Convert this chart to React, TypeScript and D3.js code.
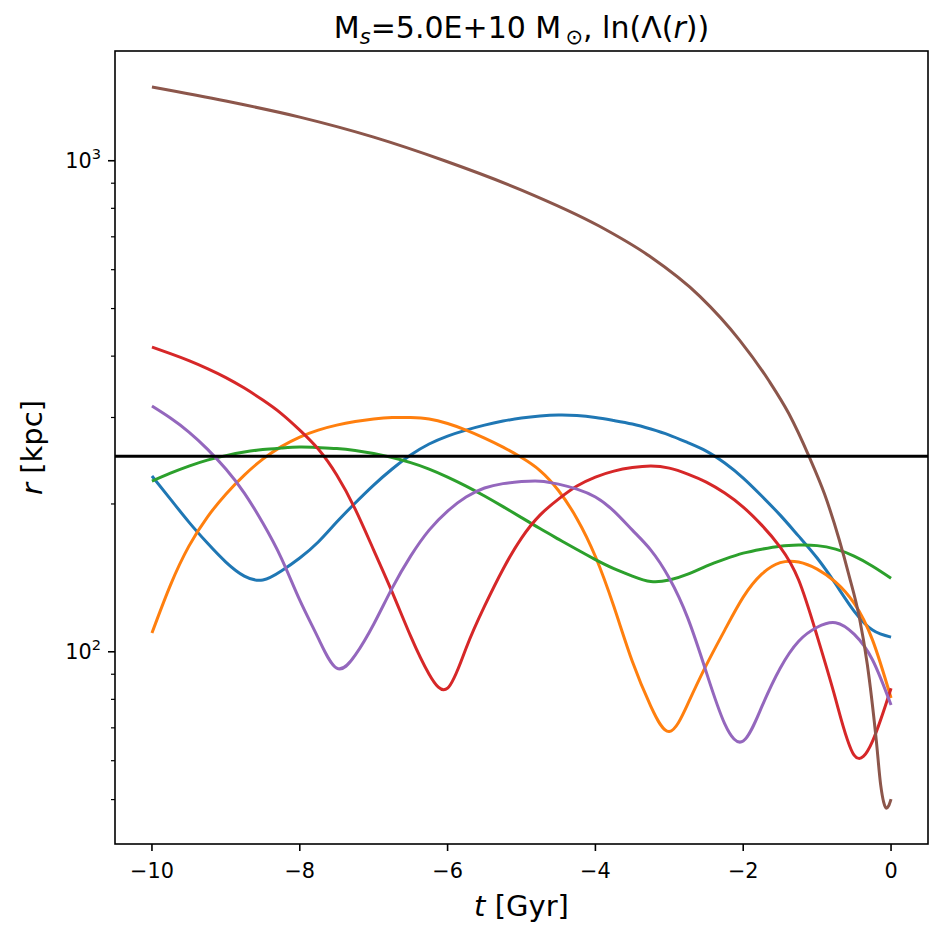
import React from "react";
import * as d3 from "d3";

const gridT = [-10, -9.75, -9.5, -9.25, -9, -8.75, -8.5, -8.25, -8, -7.75, -7.5, -7.25, -7, -6.75, -6.5, -6.25, -6, -5.75, -5.5, -5.25, -5, -4.75, -4.5, -4.25, -4, -3.75, -3.5, -3.25, -3, -2.75, -2.5, -2.25, -2, -1.75, -1.5, -1.25, -1, -0.75, -0.5, -0.25, 0];

const blueR = [228.0, 204.6, 183.7, 166.5, 152.3, 142.6, 140.0, 146.0, 155.2, 167.3, 183.7, 200.9, 218.5, 235.6, 251.6, 264.9, 275.0, 282.8, 289.5, 295.0, 299.2, 302.0, 303.4, 302.7, 299.9, 295.7, 290.9, 284.2, 276.3, 266.7, 256.3, 242.3, 225.8, 207.6, 189.8, 172.0, 155.2, 137.4, 121.0, 110.7, 107.1];
const orangeR = [109.2, 136.7, 164.1, 188.1, 209.4, 229.0, 246.8, 261.7, 273.7, 282.8, 289.5, 294.3, 297.8, 299.9, 299.9, 297.8, 291.6, 282.8, 272.4, 261.1, 248.6, 233.9, 213.0, 186.7, 156.3, 123.6, 95.5, 77.4, 68.8, 78.3, 93.9, 110.7, 129.2, 143.9, 151.9, 152.3, 147.3, 138.6, 125.6, 105.6, 80.5];
const greenR = [222.6, 231.1, 238.9, 245.7, 250.9, 255.1, 258.1, 259.9, 261.1, 260.5, 259.3, 256.9, 253.3, 248.6, 242.8, 235.6, 226.9, 217.5, 207.6, 197.5, 187.6, 178.2, 169.6, 161.5, 154.1, 147.7, 142.6, 139.0, 140.0, 143.9, 149.4, 154.4, 158.8, 161.8, 164.1, 164.9, 164.5, 161.8, 156.6, 149.4, 141.2];
const redR = [417.4, 404.9, 391.8, 377.4, 361.8, 344.4, 325.6, 305.6, 282.8, 258.7, 229.0, 195.2, 161.1, 132.3, 107.6, 90.0, 84.3, 101.7, 123.9, 147.3, 170.4, 189.8, 204.6, 217.5, 226.9, 233.3, 237.2, 238.9, 236.6, 230.1, 221.6, 210.5, 197.1, 181.1, 163.4, 140.0, 107.6, 80.1, 61.6, 65.8, 84.3];
const purpleR = [316.5, 299.2, 280.2, 258.7, 235.6, 210.5, 182.9, 155.2, 127.4, 106.6, 92.6, 98.4, 113.8, 134.8, 156.6, 176.9, 193.4, 206.6, 215.5, 220.0, 222.1, 222.6, 219.5, 214.4, 206.6, 193.4, 176.9, 161.1, 141.2, 117.1, 90.9, 71.3, 65.8, 77.2, 92.6, 105.1, 112.2, 114.6, 108.6, 96.2, 77.9];

const brownT = [-10, -9, -8, -7, -6.04, -5, -3.95, -3.27, -2.59, -2.05, -1.65, -1.38, -1.11, -0.9, -0.7, -0.57, -0.43, -0.32, -0.2, -0.14, -0.1, -0.064, -0.034, 0];
const brownR = [1413, 1323, 1227, 1117, 1000, 871.5, 736.2, 639.5, 530.1, 431.3, 355.9, 304.9, 250, 209.5, 168.9, 143.3, 117.7, 94.0, 66.1, 53.5, 49.4, 48.0, 48.5, 50.1];

const hLineR = 250;

const xTicks = [-10, -8, -6, -4, -2, 0];
const yMajor = [100, 1000];
const yMajorExp = ["2", "3"];
const yMinor = [50, 60, 70, 80, 90, 200, 300, 400, 500, 600, 700, 800, 900];

const series = [
  { t: gridT, r: blueR, color: "#1f77b4", smooth: true },
  { t: gridT, r: orangeR, color: "#ff7f0e", smooth: true },
  { t: gridT, r: greenR, color: "#2ca02c", smooth: true },
  { t: gridT, r: redR, color: "#d62728", smooth: true },
  { t: gridT, r: purpleR, color: "#9467bd", smooth: true },
  { t: brownT, r: brownR, color: "#8c564b", smooth: false },
];

const W = 943, H = 939;
const L = 115, R = 928, T = 51, B = 844;
const FONT = "DejaVu Sans";

export default function App() {
  const x = d3.scaleLinear().domain([-10.5, 0.5]).range([L, R]);
  const y = d3.scaleLog().domain([40.6, 1673]).range([B, T]);
  const mkLine = (smooth: boolean) =>
    d3
      .line<[number, number]>()
      .x((d) => x(d[0]))
      .y((d) => y(d[1]))
      .curve(smooth ? d3.curveNatural : d3.curveMonotoneX);

  return (
    <svg width={W} height={H} style={{ position: "absolute", left: 0, top: 0, background: "#fff" }}>
      <rect x={0} y={0} width={W} height={H} fill="#fff" />
      <defs>
        <clipPath id="plotclip">
          <rect x={L} y={T} width={R - L} height={B - T} />
        </clipPath>
      </defs>
      <g clipPath="url(#plotclip)">
        {series.map((s, i) => (
          <path
            key={i}
            d={mkLine(s.smooth)(s.t.map((t, j) => [t, s.r[j]] as [number, number])) || ""}
            fill="none"
            stroke={s.color}
            strokeWidth={3}
            strokeLinejoin="round"
            strokeLinecap="butt"
          />
        ))}
        <line x1={L} x2={R} y1={y(hLineR)} y2={y(hLineR)} stroke="#000" strokeWidth={3} />
      </g>
      <rect x={L} y={T} width={R - L} height={B - T} fill="none" stroke="#000" strokeWidth={1.6} />
      {xTicks.map((t) => (
        <g key={t}>
          <line x1={x(t)} x2={x(t)} y1={B} y2={B + 7} stroke="#000" strokeWidth={1.6} />
          <text x={x(t)} y={878} textAnchor="middle" fontFamily={FONT} fontSize={20.8} fill="#000">
            {t < 0 ? "\u2212" + Math.abs(t) : String(t)}
          </text>
        </g>
      ))}
      {yMajor.map((v, i) => (
        <g key={v}>
          <line x1={L - 7} x2={L} y1={y(v)} y2={y(v)} stroke="#000" strokeWidth={1.6} />
          <text x={101} y={y(v) + 7.5} textAnchor="end" fontFamily={FONT} fontSize={20.8} fill="#000">
            <tspan>10</tspan>
            <tspan dy={-9} fontSize={14.6}>{yMajorExp[i]}</tspan>
          </text>
        </g>
      ))}
      {yMinor.map((v) => (
        <line key={v} x1={L - 4} x2={L} y1={y(v)} y2={y(v)} stroke="#000" strokeWidth={1.2} />
      ))}
      <text x={(L + R) / 2} y={916} textAnchor="middle" fontFamily={FONT} fontSize={29} fill="#000">
        <tspan fontStyle="italic">t</tspan>
        <tspan> [Gyr]</tspan>
      </text>
      <text
        transform={`translate(42, ${(T + B) / 2}) rotate(-90)`}
        textAnchor="middle"
        fontFamily={FONT}
        fontSize={29}
        fill="#000"
      >
        <tspan fontStyle="italic">r</tspan>
        <tspan> [kpc]</tspan>
      </text>
      <text x={(L + R) / 2} y={38} textAnchor="middle" fontFamily={FONT} fontSize={30} fill="#000">
        <tspan>M</tspan>
        <tspan fontStyle="italic" fontSize={21} dy={6}>s</tspan>
        <tspan dy={-6}>=5.0E+10 M</tspan>
        <tspan fontSize={21} dy={6}>{"\u2009\u2299"}</tspan>
        <tspan dy={-6}>, ln(Λ(</tspan>
        <tspan fontStyle="italic">r</tspan>
        <tspan>))</tspan>
      </text>
    </svg>
  );
}
